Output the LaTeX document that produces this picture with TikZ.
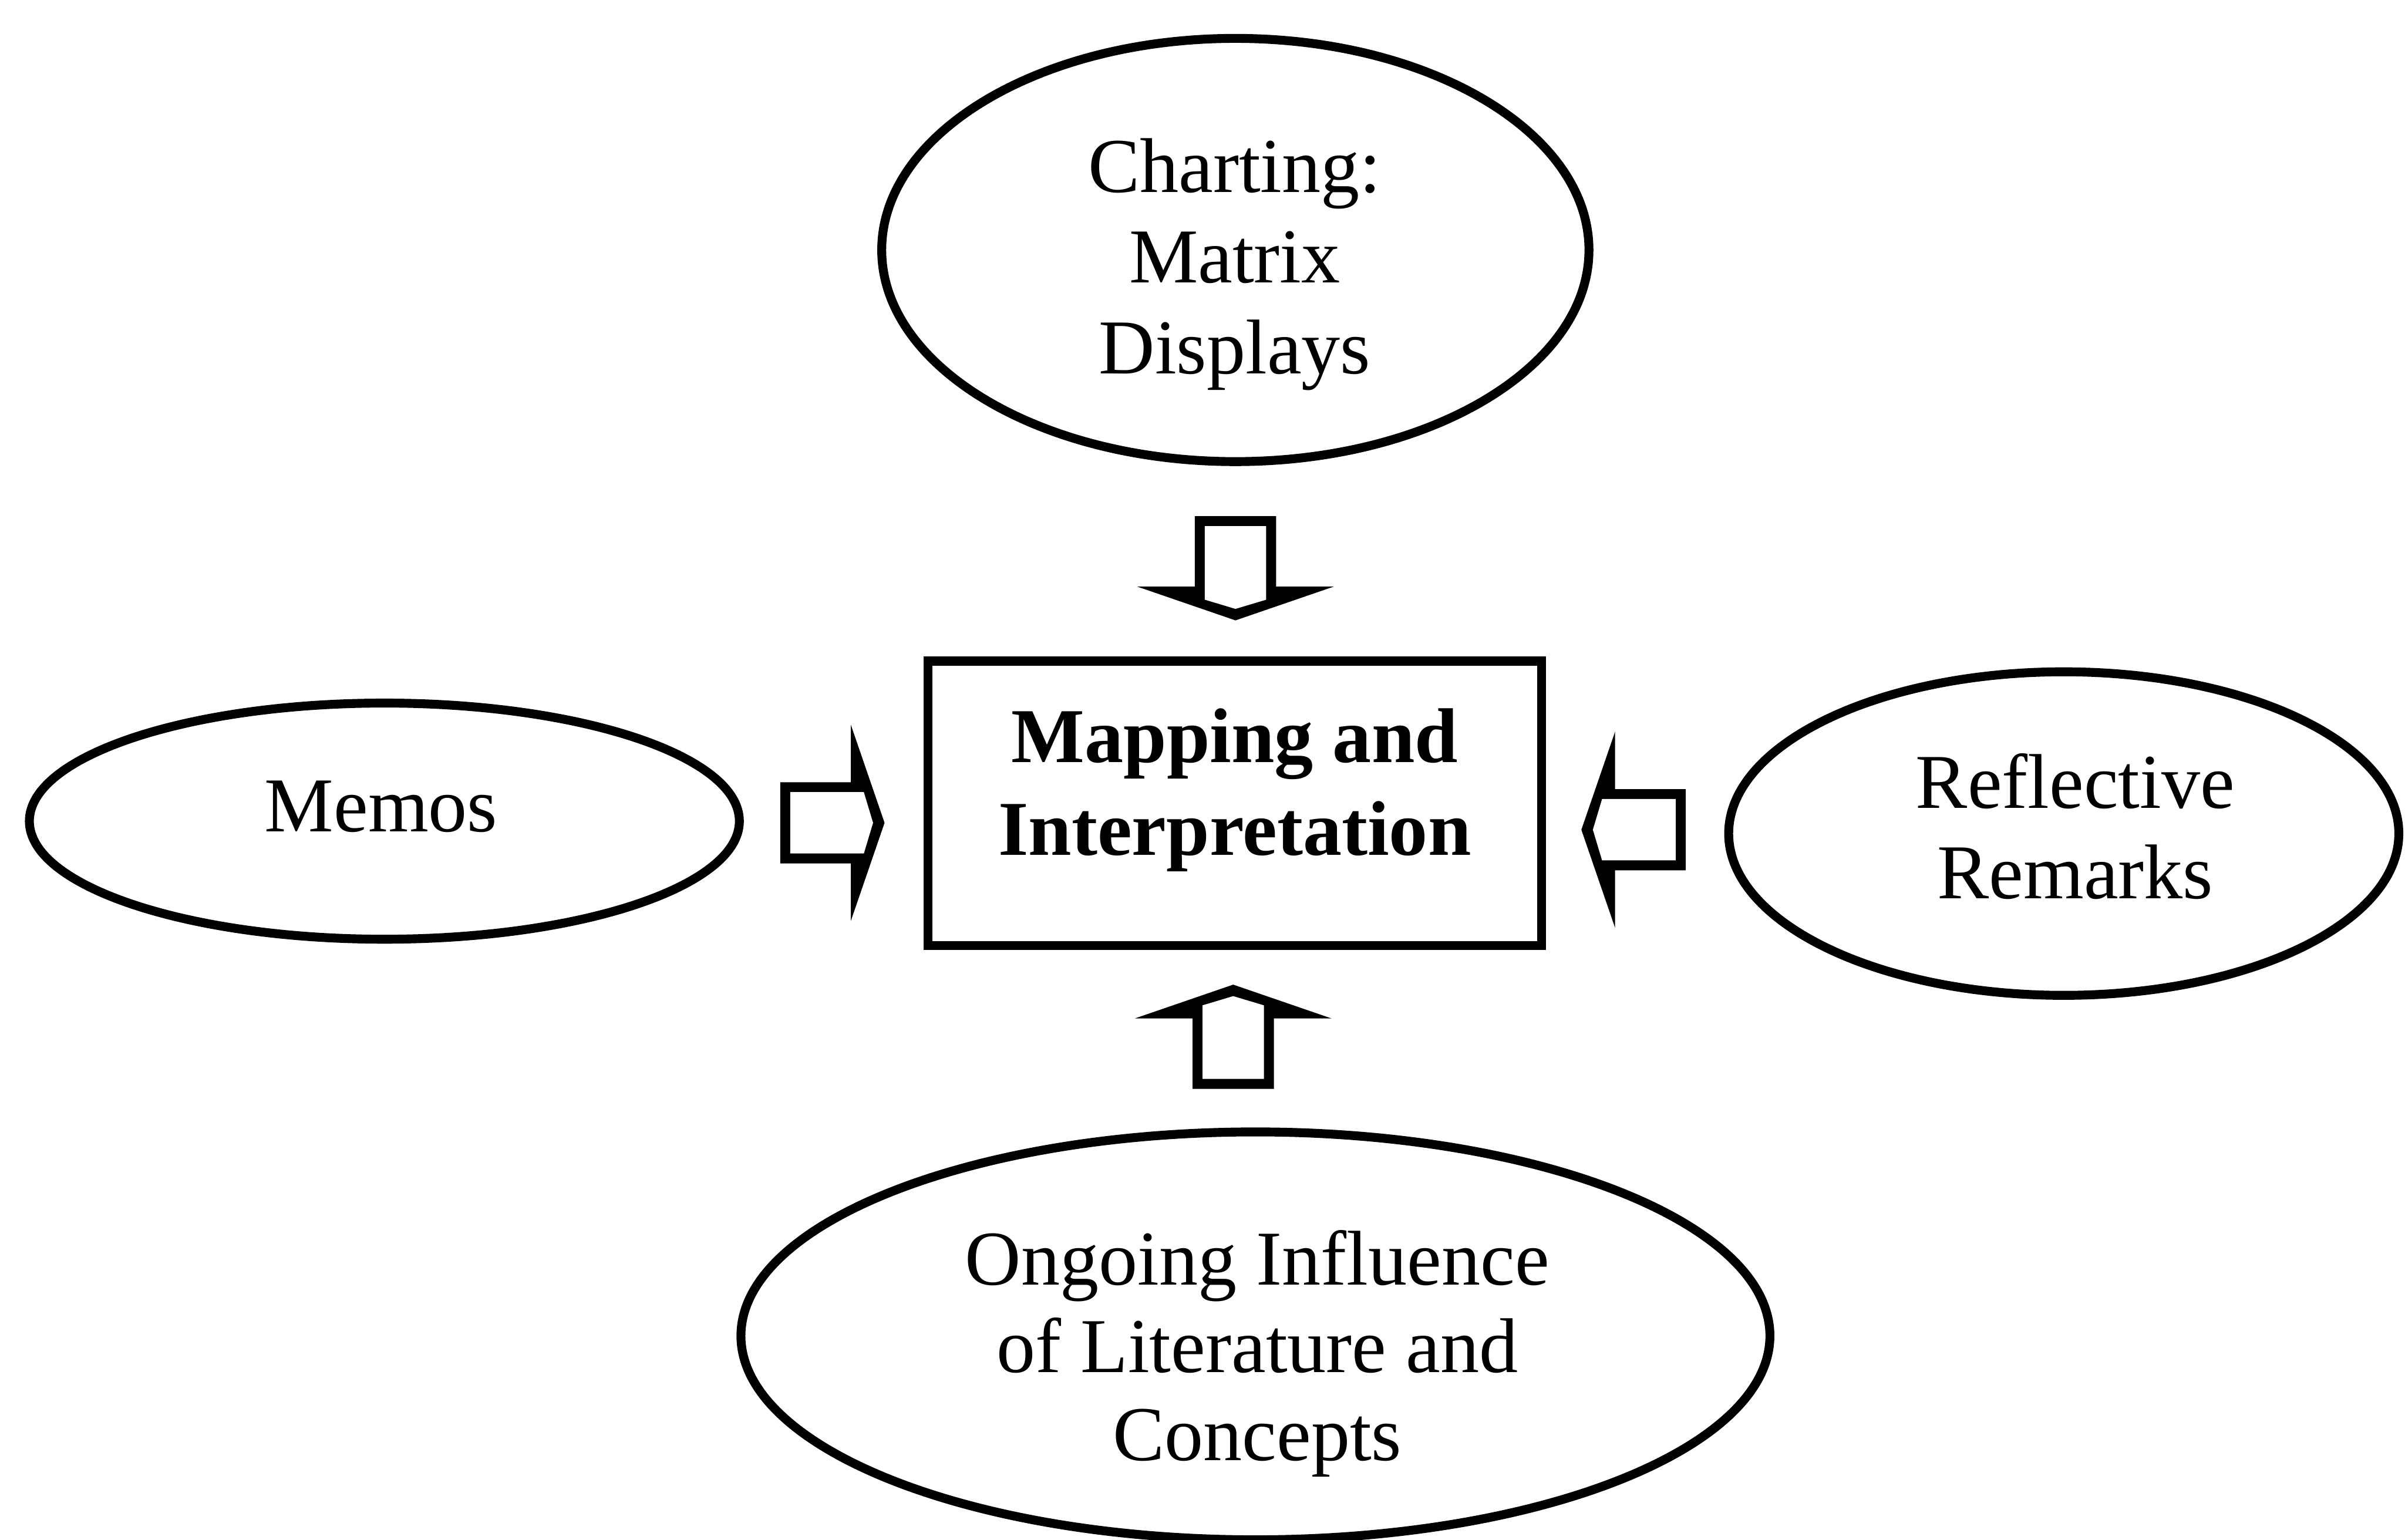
\documentclass[tikz,border=0pt]{standalone}
\usepackage{fontspec}
\setmainfont{Liberation Serif}
\usetikzlibrary{shapes.geometric}
\newcommand\mylines[2]{\fontsize{28.8}{#1}\selectfont\begin{tabular}[t]{@{}c@{}}#2\end{tabular}}
\tikzset{
  outline/.style={draw=black, line width=3.3pt},
  oval/.style={outline, ellipse, inner sep=0pt},
  lbl/.style={inner sep=0pt, anchor=base},
  blockarrow/.pic={
    \fill[black] (0,-26.5) -- (46,-26.5) -- (46,-64) -- (68,0) -- (46,64) -- (46,26.5) -- (0,26.5) -- cycle;
    \fill[white] (6.5,-20) -- (54.5,-20) -- (60.5,0) -- (54.5,20) -- (6.5,20) -- cycle;
  }
}
\begin{document}
\begin{tikzpicture}[x=0.02cm, y=-0.02cm]
  \useasboundingbox (0,0) rectangle (1568,1004);
  \fill[white] (0,0) rectangle (1568,1004);
  \clip (0,0) rectangle (1568,1004);

  % shapes
  \node[oval, minimum width=9.224cm, minimum height=5.52cm] (chart) at (805.4,163) {};
  \node[oval, minimum width=9.26cm, minimum height=3.08cm] (memos) at (250.6,535.4) {};
  \node[oval, minimum width=8.74cm, minimum height=4.22cm] (refl) at (1345.5,543.5) {};
  \node[oval, minimum width=13.42cm, minimum height=5.32cm] (lit) at (818.5,871) {};
  \node[outline, rectangle, inner sep=0pt, minimum width=8cm, minimum height=3.71cm] (map) at (805,523.75) {};

  % labels
  \node[lbl] (chartT) at (805,125.4) {\mylines{33.6pt}{Charting:\\Matrix\\Displays}};
  \node[lbl] (memosT) at (248.5,542.2) {\mylines{33.6pt}{Memos}};
  \node[lbl] (reflT) at (1353,527) {\mylines{33.6pt}{Reflective\\Remarks}};
  \node[lbl] (litT) at (819.7,837.7) {\mylines{32.6pt}{Ongoing Influence\\of Literature and\\Concepts}};
  \node[lbl] (mapT) at (805,497.2) {\mylines{34.4pt}{\bfseries Mapping and\\\bfseries Interpretation}};

  % block arrows
  \pic[rotate=-90] (arrTop) at (805.5,336.5) {blockarrow};
  \pic (arrLeft) at (508.7,536.5) {blockarrow};
  \pic[rotate=180] (arrRight) at (1099,541) {blockarrow};
  \pic[rotate=90] (arrBottom) at (804,710) {blockarrow};
\end{tikzpicture}
\end{document}
